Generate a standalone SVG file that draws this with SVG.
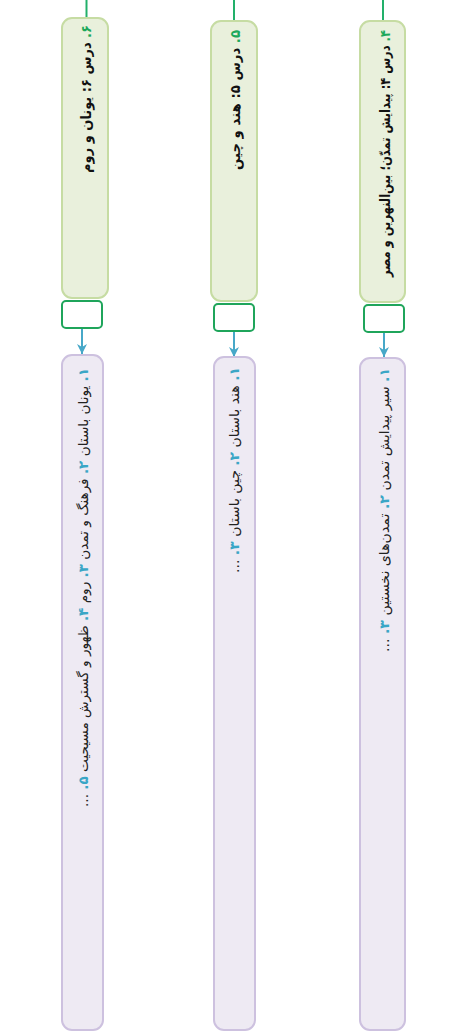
<svg xmlns="http://www.w3.org/2000/svg" width="461" height="1033" viewBox="0 0 461 1033">
<defs>
<style>
.topic{fill:#e9f0dc;stroke:#c6dca3;stroke-width:2}
.port{fill:#ffffff;stroke:#1fa55b;stroke-width:2}
.sub{fill:#eeeaf3;stroke:#cdc1df;stroke-width:2}
.root{stroke:#22b06a;stroke-width:2;fill:none}
.edge{stroke:#47a8c8;stroke-width:2;fill:none}
.tt{font-family:"DejaVu Sans",sans-serif;font-size:14px;font-weight:bold;fill:#111}
.st{font-family:"DejaVu Sans",sans-serif;font-size:13.5px;fill:#222}
.gn{fill:#1ba85a}
.bn{fill:#3aa6c6;font-weight:bold}
</style>
<marker id="ah" viewBox="0 0 10 10" refX="10" refY="5" markerWidth="5" markerHeight="5" orient="auto" markerUnits="strokeWidth">
<path d="M0,0 L10,5 L0,10 L3,5 Z" fill="#47a8c8"/>
</marker>
</defs>
<g id="connectors">
<line class="root" x1="383" y1="0" x2="383" y2="21"/>
<line class="root" x1="234" y1="0" x2="234" y2="21"/>
<line class="root" x1="86.5" y1="0" x2="86.5" y2="18"/>
<line class="edge" x1="384" y1="332" x2="384" y2="357" marker-end="url(#ah)"/>
<line class="edge" x1="234" y1="332" x2="234" y2="357" marker-end="url(#ah)"/>
<line class="edge" x1="82" y1="328" x2="82" y2="354" marker-end="url(#ah)"/>
</g>
<g id="lesson4">
<rect class="topic" x="360" y="21" width="45" height="281" rx="10"/>
<text class="tt" transform="translate(390,30) rotate(-90)" direction="rtl" text-anchor="start" textLength="247" lengthAdjust="spacingAndGlyphs"><tspan class="gn">۴.</tspan> درس ۴: پیدایش تمدّن؛ بین‌النهرین و مصر</text>
</g>
<g id="port4"><rect class="port" x="364" y="305" width="40" height="27" rx="4"/></g>
<g id="sub4">
<rect class="sub" x="360" y="358" width="45" height="672" rx="10"/>
<text class="st" transform="translate(389,368) rotate(-90)" direction="rtl" text-anchor="start" textLength="284" lengthAdjust="spacingAndGlyphs"><tspan class="bn">۱.</tspan> سیر پیدایش تمدن <tspan class="bn">۲.</tspan> تمدن‌های نخستین <tspan class="bn">۳.</tspan> ...</text>
</g>
<g id="lesson5">
<rect class="topic" x="211" y="21" width="46" height="280" rx="10"/>
<text class="tt" transform="translate(240,30) rotate(-90)" direction="rtl" text-anchor="start" textLength="140" lengthAdjust="spacingAndGlyphs"><tspan class="gn">۵.</tspan> درس ۵: هند و چین</text>
</g>
<g id="port5"><rect class="port" x="214" y="304" width="40" height="27" rx="4"/></g>
<g id="sub5">
<rect class="sub" x="214" y="357" width="41" height="673" rx="10"/>
<text class="st" transform="translate(239,367) rotate(-90)" direction="rtl" text-anchor="start" textLength="206" lengthAdjust="spacingAndGlyphs"><tspan class="bn">۱.</tspan> هند باستان <tspan class="bn">۲.</tspan> چین باستان <tspan class="bn">۳.</tspan> ...</text>
</g>
<g id="lesson6">
<rect class="topic" x="62" y="18" width="46" height="280" rx="10"/>
<text class="tt" transform="translate(91,25) rotate(-90)" direction="rtl" text-anchor="start" textLength="148" lengthAdjust="spacingAndGlyphs"><tspan class="gn">۶.</tspan> درس ۶: یونان و روم</text>
</g>
<g id="port6"><rect class="port" x="62" y="301" width="40" height="27" rx="4"/></g>
<g id="sub6">
<rect class="sub" x="62" y="355" width="41" height="675" rx="10"/>
<text class="st" transform="translate(88,368) rotate(-90)" direction="rtl" text-anchor="start" textLength="439" lengthAdjust="spacingAndGlyphs"><tspan class="bn">۱.</tspan> یونان باستان <tspan class="bn">۲.</tspan> فرهنگ و تمدن <tspan class="bn">۳.</tspan> روم <tspan class="bn">۴.</tspan> ظهور و گسترش مسیحیت <tspan class="bn">۵.</tspan> ...</text>
</g>
</svg>
